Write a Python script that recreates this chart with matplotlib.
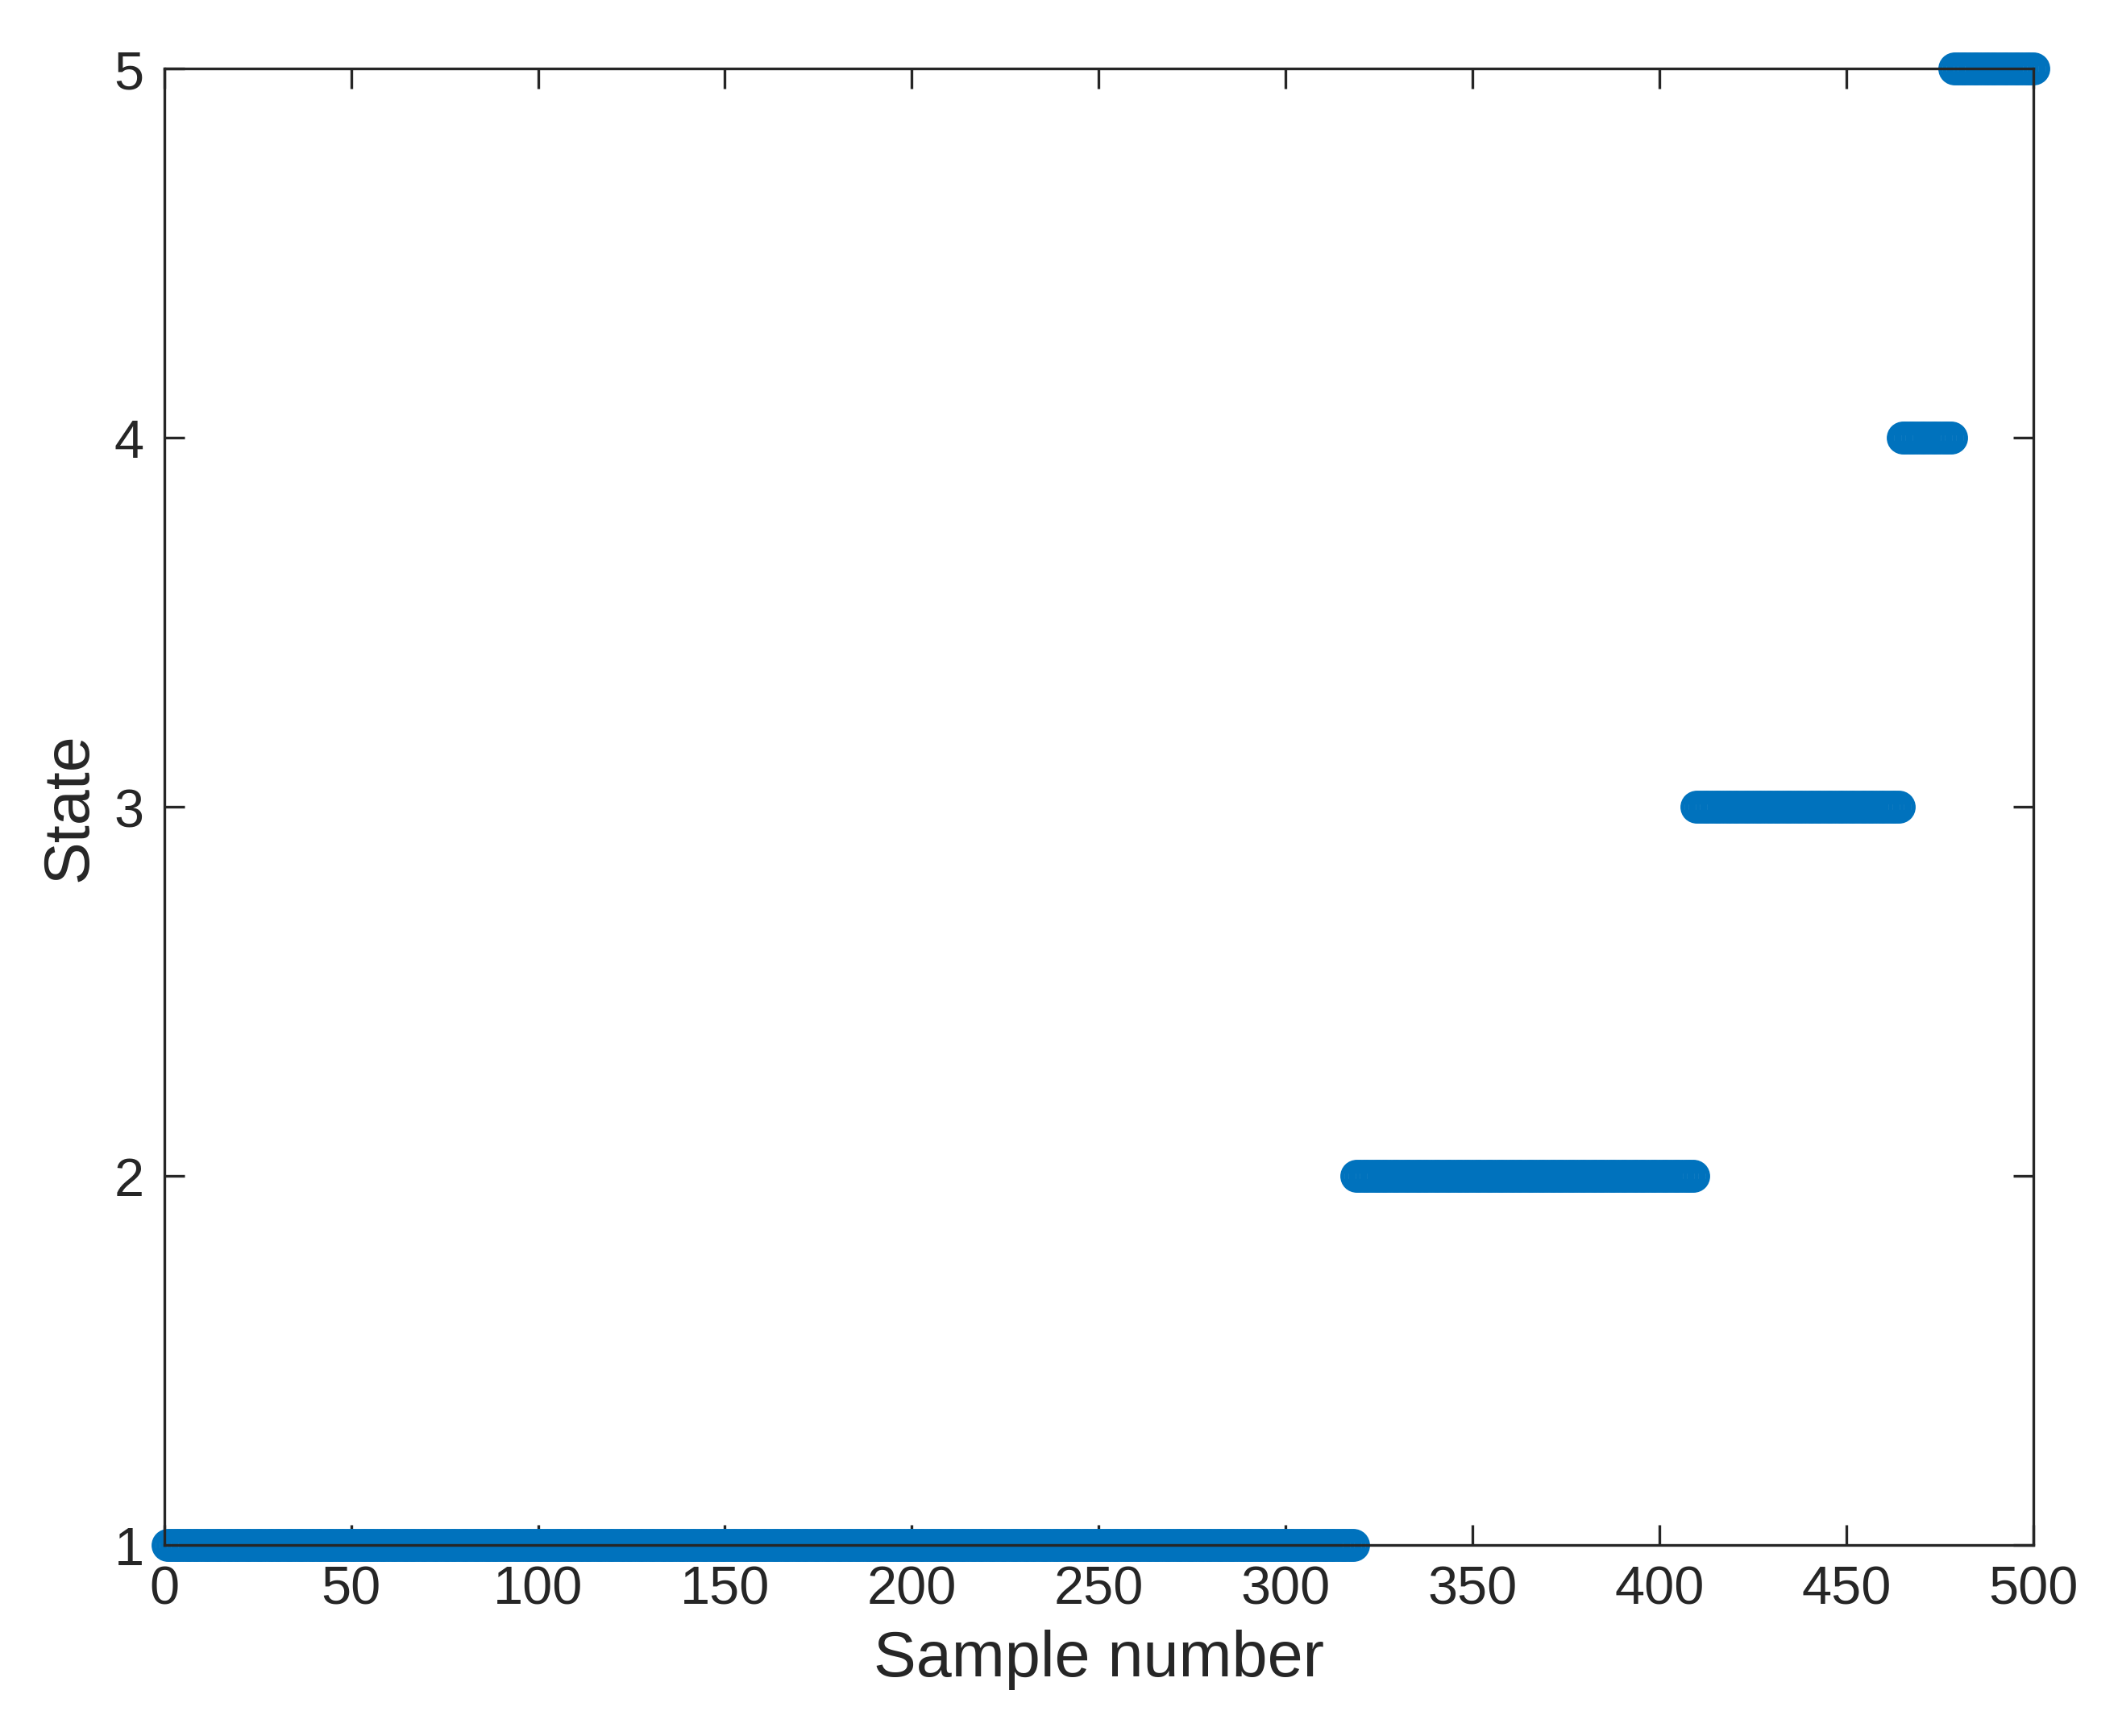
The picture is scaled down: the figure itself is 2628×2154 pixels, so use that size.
import numpy as np
import matplotlib.pyplot as plt

plt.rcParams['font.family'] = ['Liberation Sans', 'DejaVu Sans']

# state sequence stored as runs: (state, number of samples)
run_states = [1, 2, 3, 4, 5]
run_lengths = [318, 91, 55, 14, 22]

states = np.repeat(run_states, run_lengths)
samples = np.arange(1, len(states) + 1)

fig = plt.figure(figsize=(8.76, 7.1833), dpi=300)
ax = fig.add_axes([0.0775, 0.110, 0.8825, 0.850])

ax.plot(samples, states, 'o', mfc='none', mec=(0, 0.447, 0.741),
        ms=8.5, mew=1.3, clip_on=False)

ax.set_xlim(0, 500)
ax.set_ylim(1, 5)
ax.set_xticks(np.arange(0, 501, 50))
ax.set_yticks([1, 2, 3, 4, 5])
ax.tick_params(direction='in', top=True, right=True, labelsize=16,
               length=6, width=0.8, colors='#262626', pad=6)
for s in ax.spines.values():
    s.set_linewidth(0.8)
    s.set_color('#262626')
ax.set_xlabel('Sample number', fontsize=19, color='#262626')
ax.set_ylabel('State', fontsize=19, color='#262626')

fig.savefig('out.png', dpi=300)
